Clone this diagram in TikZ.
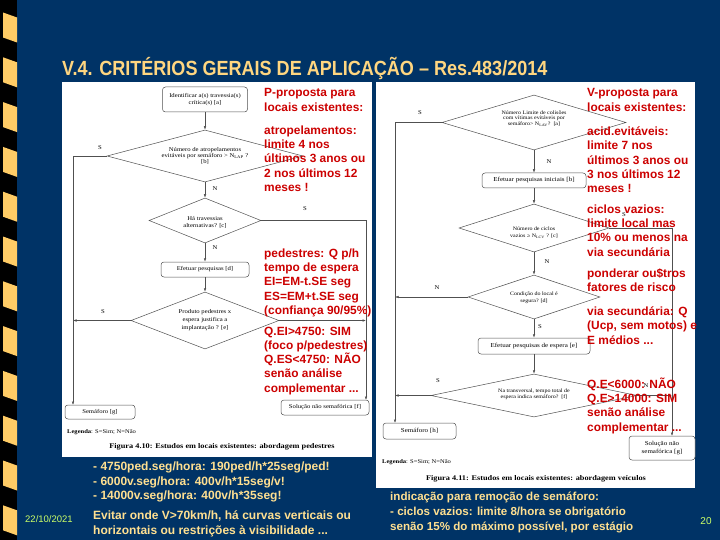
\documentclass[tikz,border=0pt]{standalone}
\usepackage{fontspec}
\setmainfont{Liberation Serif}
\newfontfamily\arial{Liberation Sans}
\newfontfamily\flfont[FakeStretch=1.15]{Liberation Serif}
\newfontfamily\ttlfont[FakeStretch=0.88]{Liberation Sans}
\usetikzlibrary{shapes.geometric,arrows.meta}
\definecolor{navy}{RGB}{0,51,102}
\definecolor{stripe}{RGB}{255,204,102}
\definecolor{ttl}{RGB}{255,214,128}
\definecolor{ylw}{RGB}{255,224,145}
\definecolor{redtxt}{RGB}{204,0,0}
\definecolor{lime}{RGB}{204,255,102}
\definecolor{fl}{RGB}{80,80,80}
\begin{document}
\begin{tikzpicture}[x=1pt,y=-1pt,
  lfnt/.style={font=\flfont\fontsize{5.8}{7.2}\selectfont},
  rfnt/.style={font=\flfont\fontsize{5.2}{6}\selectfont},
  box/.style={draw=fl, rounded corners=3pt, fill=white, line width=0.5pt, inner sep=0pt, align=center, lfnt},
  rbox/.style={box, font=\flfont\fontsize{6.1}{7.2}\selectfont},
  dia/.style={draw=fl, diamond, line width=0.5pt, inner sep=0pt},
  ftext/.style={align=center, inner sep=0pt, lfnt},
  rtext/.style={align=center, inner sep=0pt, rfnt},
  lab/.style={font=\flfont\fontsize{5.8}{7}\selectfont, inner sep=0pt},
  arr/.style={draw=fl, line width=0.5pt, -{Latex[length=3.5pt,width=2.5pt]}},
  rtxt/.style={text=redtxt, font=\arial\bfseries\fontsize{11.9}{14.3}\selectfont, align=left, anchor=north west, inner sep=0pt},
  ytxt/.style={text=ylw, font=\arial\bfseries\fontsize{12}{14.2}\selectfont, align=left, anchor=north west, inner sep=0pt},
  figcap/.style={font=\flfont\bfseries\fontsize{7.2}{8}\selectfont, inner sep=0pt},
  legd/.style={font=\flfont\fontsize{5.7}{7}\selectfont, inner sep=0pt, anchor=west}]
\useasboundingbox (0,0) rectangle (720,540);
\fill[navy] (0,0) rectangle (720,540);
\fill[black] (0,0) rectangle (17,540);
\foreach \i in {0,...,11} {
  \fill[stripe] (3,12.5+44.8*\i) -- (17,17.5+44.8*\i) -- (17,42.5+44.8*\i) -- (3,37.5+44.8*\i) -- cycle;
}
\fill[white] (62,82) rectangle (372,457);
\fill[white] (376,82) rectangle (695,488);
\node[anchor=base west, text=ttl, font=\ttlfont\bfseries\fontsize{20.5}{22}\selectfont, inner sep=0pt] (title) at (62,76) {V.4. CRITÉRIOS GERAIS DE APLICAÇÃO – Res.483/2014};

% ---------- left flowchart ----------
\node[box, minimum width=85, minimum height=25] (la) at (205,99.5) {Identificar a(s) travessia(s)\\crítica(s) [a]};
\node[dia, minimum width=196, minimum height=52] (lb) at (205,156) {};
\node[ftext, font=\flfont\fontsize{5.8}{6.3}\selectfont] at (lb) {Número de atropelamentos\\evitáveis por semáforo > N\textsubscript{LAP} ?\\{[b]}};
\node[dia, minimum width=112, minimum height=45] (lc) at (205,220.5) {};
\node[ftext] at ([yshift=-1.5pt]lc.center) {Há travessias\\alternativas? [c]};
\node[box, minimum width=88, minimum height=15] (ld) at (205,269.5) {Efetuar pesquisas [d]};
\node[dia, minimum width=148, minimum height=57] (le) at (205,320.5) {};
\node[ftext, font=\flfont\fontsize{5.8}{8}\selectfont] at (le) {Produto pedestres x\\espera justifica a\\implantação ? [e]};
\node[box, minimum width=70, minimum height=14] (lg) at (100,412) {Semáforo [g]};
\node[box, minimum width=88, minimum height=15] (lf) at (325,407.5) {Solução não semafórica [f]};
\draw[arr] (la) -- (lb.north);
\draw[arr] (lb.south) -- (lc.north);
\draw[arr] (lc.south) -- (ld.north);
\draw[arr] (ld.south) -- (le.north);
\coordinate (lgin) at (73,405);
\draw[arr] (lb.west) -| (lgin);
\coordinate (leL) at (73,320.5);
\draw[arr] (le.west) -- (leL);
\coordinate (lfin) at (366,400);
\draw[arr] (lc.east) -| (lfin);
\coordinate (leR) at (366,320.5);
\draw[arr] (le.east) -- (leR);
\node[lab] at (100,148) {S};
\node[lab] at (215,189) {N};
\node[lab] at (215,248) {N};
\node[lab] at (103,312) {S};
\node[lab] at (305,209) {S};
\node[legd] (lleg) at (67,432) {\textbf{Legenda}: S=Sim; N=Não};
\node[figcap] (lcap) at (222,447) {Figura 4.10: Estudos em locais existentes: abordagem pedestres};

% ---------- right flowchart ----------
\node[dia, minimum width=184, minimum height=55] (ra) at (534,122.5) {};
\node[rtext, font=\flfont\fontsize{5.2}{5.3}\selectfont] at ([yshift=4pt]ra.center) {Número Limite de colisões\\com vítimas evitáveis por\\semáforo> N\textsubscript{LAV}?~~[a]};
\node[rbox, minimum width=104, minimum height=15] (rb) at (534,180.5) {Efetuar pesquisas iniciais [b]};
\node[dia, minimum width=150, minimum height=48] (rc) at (534,228) {};
\node[rtext, font=\flfont\fontsize{5.2}{6.6}\selectfont] at ([yshift=-5pt]rc.center) {Número de ciclos\\vazios ≥ N\textsubscript{LCV} ? [c]};
\node[dia, minimum width=132, minimum height=44] (rd) at (534,297) {};
\node[rtext, font=\flfont\fontsize{5.2}{6.6}\selectfont] at ([yshift=-1pt]rd.center) {Condição do local é\\segura? [d]};
\node[rbox, minimum width=112, minimum height=16] (re) at (534,346) {Efetuar pesquisas de espera [e]};
\node[dia, minimum width=206, minimum height=43] (rf) at (534,395.5) {};
\node[rtext, font=\flfont\fontsize{5.2}{5.8}\selectfont] at ([yshift=1pt]rf.center) {Na transversal, tempo total de\\espera indica semáforo?~~[f]};
\node[rbox, minimum width=73, minimum height=16] (rh) at (419.5,431) {Semáforo [h]};
\node[rbox, minimum width=66, minimum height=24] (rg) at (662,448) {Solução não\\semafórica [g]};
\draw[arr] (ra.south) -- (rb.north);
\draw[arr] (rb.south) -- (rc.north);
\draw[arr] (rc.south) -- (rd.north);
\draw[arr] (rd.south) -- (re.north);
\draw[arr] (re.south) -- (rf.north);
\coordinate (rhin) at (395,423);
\draw[arr] (ra.west) -| (rhin);
\coordinate (rdL) at (395,297);
\draw[arr] (rd.west) -- (rdL);
\coordinate (rfL) at (395,395.5);
\draw[arr] (rf.west) -- (rfL);
\coordinate (rgin) at (672,436);
\draw[arr] (rc.east) -| (rgin);
\coordinate (rfR) at (672,395.5);
\draw[arr] (rf.east) -- (rfR);
\node[lab] at (420,113) {S};
\node[lab] at (549,162) {N};
\node[lab] at (547,262) {N};
\node[lab] at (437,288) {N};
\node[lab] at (540,327) {S};
\node[lab] at (438,381) {S};
\node[lab] at (624,215) {S};
\node[lab] at (646,386) {N};
\node[legd] (rleg) at (382,462) {\textbf{Legenda}: S=Sim; N=Não};
\node[figcap] (rcap) at (536,479) {Figura 4.11: Estudos em locais existentes: abordagem veículos};

% ---------- red annotations ----------
\node[rtxt] (p1) at (264,88.5) {P-proposta para\\locais existentes:};
\node[rtxt] (p2) at (264,125.5) {atropelamentos:\\limite 4 nos\\últimos 3 anos ou\\2 nos últimos 12\\meses !};
\node[rtxt] (p3) at (264,248.5) {pedestres: Q p/h\\tempo de espera\\EI=EM-t.SE seg\\ES=EM+t.SE seg\\(confiança 90/95\%)};
\node[rtxt] (p4) at (264,326.5) {Q.EI>4750: SIM\\(foco p/pedestres)\\Q.ES<4750: NÃO\\senão análise\\complementar ...};
\node[rtxt] (v1) at (587,88.5) {V-proposta para\\locais existentes:};
\node[rtxt] (v2) at (587,126.5) {acid.evitáveis:\\limite 7 nos\\últimos 3 anos ou\\3 nos últimos 12\\meses !};
\node[rtxt] (v3) at (587,204.5) {ciclos vazios:\\limite local mas\\10\% ou menos na\\via secundária};
\node[rtxt] (v4) at (587,268.5) {ponderar ou\$tros\\fatores de risco};
\node[rtxt] (v5) at (587,306.5) {via secundária: Q\\(Ucp, sem motos) e\\E médios ...};
\node[rtxt] (v6) at (587,377.5) {Q.E<6000: NÃO\\Q.E>14000: SIM\\senão análise\\complementar ...};

% ---------- bottom texts ----------
\node[ytxt] (b1) at (93,462) {- 4750ped.seg/hora: 190ped/h*25seg/ped!\\- 6000v.seg/hora: 400v/h*15seg/v!\\- 14000v.seg/hora: 400v/h*35seg!};
\node[ytxt, font=\arial\bfseries\fontsize{12}{15}\selectfont] (b2) at (93,510.5) {Evitar onde V>70km/h, há curvas verticais ou\\horizontais ou restrições à visibilidade ...};
\node[ytxt, font=\arial\bfseries\fontsize{11.6}{15}\selectfont] (b3) at (390,491.5) {indicação para remoção de semáforo:\\- ciclos vazios: limite 8/hora se obrigatório\\senão 15\% do máximo possível, por estágio};
\node[anchor=west, text=lime, font=\arial\fontsize{9.5}{11}\selectfont, inner sep=0pt] (date) at (25,519) {22/10/2021};
\node[text=lime, font=\arial\fontsize{10}{11}\selectfont, inner sep=0pt] (pg) at (706,521) {20};
\end{tikzpicture}
\end{document}
